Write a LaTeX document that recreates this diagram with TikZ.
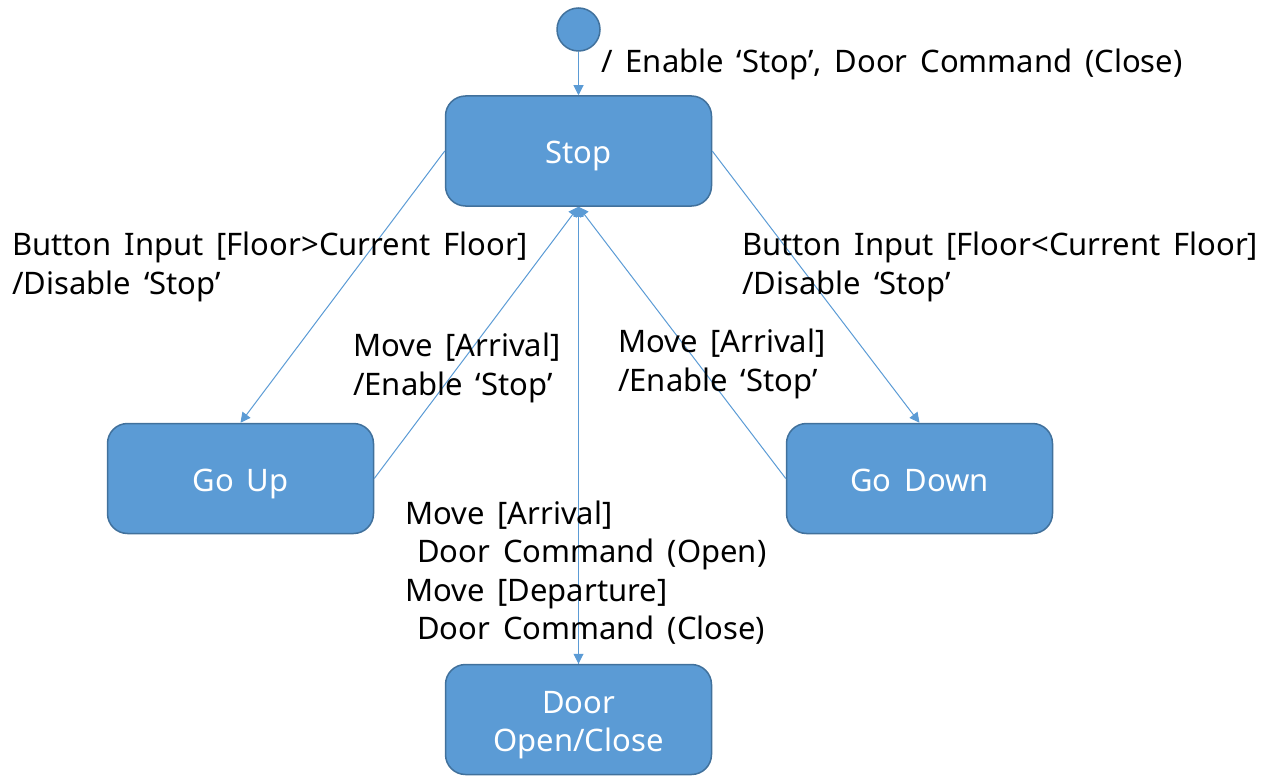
\documentclass[tikz,border=0pt]{standalone}
\usepackage{fontspec}
\setmainfont[WordSpace=1.6]{Noto Sans}
\usetikzlibrary{arrows.meta}
\definecolor{boxfill}{HTML}{5B9BD5}
\definecolor{boxline}{HTML}{41719C}
\definecolor{conn}{HTML}{5B9BD5}
\newcommand{\lowtext}[2][-5pt]{\raisebox{#1}[\height][\depth]{#2}}
\begin{document}
\begin{tikzpicture}[x=1pt,y=-1pt,
  state/.style={draw=boxline, line width=1.5pt, fill=boxfill, rounded corners=20pt,
    minimum width=266pt, minimum height=110pt, inner sep=0pt, text=white,
    font=\fontsize{31}{38}\selectfont},
  initstate/.style={circle, draw=boxline, line width=1.5pt, fill=boxfill, minimum size=43pt, inner sep=0pt},
  conn/.style={draw=conn, line width=1pt, -{Triangle[length=10pt,width=10pt]}},
  lbl/.style={anchor=base west, inner sep=0pt, font=\fontsize{31}{36}\selectfont, text=black}
]
\useasboundingbox (0,0) rectangle (1270,776);
\node[initstate] (init) at (578.5,29.5) {};
\node[state] (stop) at (578.5,151) {\lowtext{Stop}};
\node[state] (goup) at (240.5,478.5) {\lowtext{Go Up}};
\node[state] (godown) at (919.5,478.5) {\lowtext[-2pt]{Go Down}};
\node[state] (door) at (578.5,719.5) {\lowtext{\begin{tabular}{@{}c@{}}Door\\Open/Close\end{tabular}}};

\draw[conn] (init) -- (stop.north);
\draw[conn] (stop.west) -- (goup.north);
\draw[conn] (stop.east) -- (godown.north);
\draw[conn] (goup.east) -- (stop.south);
\draw[conn] (godown.west) -- (stop.south);
\draw[conn] (door.north) -- (stop.south);
\draw[conn] (stop.south) -- (door.north);

\node[lbl] (l0) at (601,73) {/ Enable ‘Stop’, Door Command (Close)};
\node[lbl] (l1a) at (12,255) {Button Input [Floor>Current Floor]};
\node[lbl] (l1b) at (12,294) {/Disable ‘Stop’};
\node[lbl] (l2a) at (742,255) {Button Input [Floor<Current Floor]};
\node[lbl] (l2b) at (742,294) {/Disable ‘Stop’};
\node[lbl] (l3a) at (353,356) {Move [Arrival]};
\node[lbl] (l3b) at (353,395) {/Enable ‘Stop’};
\node[lbl] (l4a) at (618,352) {Move [Arrival]};
\node[lbl] (l4b) at (618,391) {/Enable ‘Stop’};
\node[lbl] (l5a) at (405,524) {Move [Arrival]};
\node[lbl] (l5b) at (417,562) {Door Command (Open)};
\node[lbl] (l5c) at (405,601) {Move [Departure]};
\node[lbl] (l5d) at (417,639) {Door Command (Close)};
\end{tikzpicture}
\end{document}
